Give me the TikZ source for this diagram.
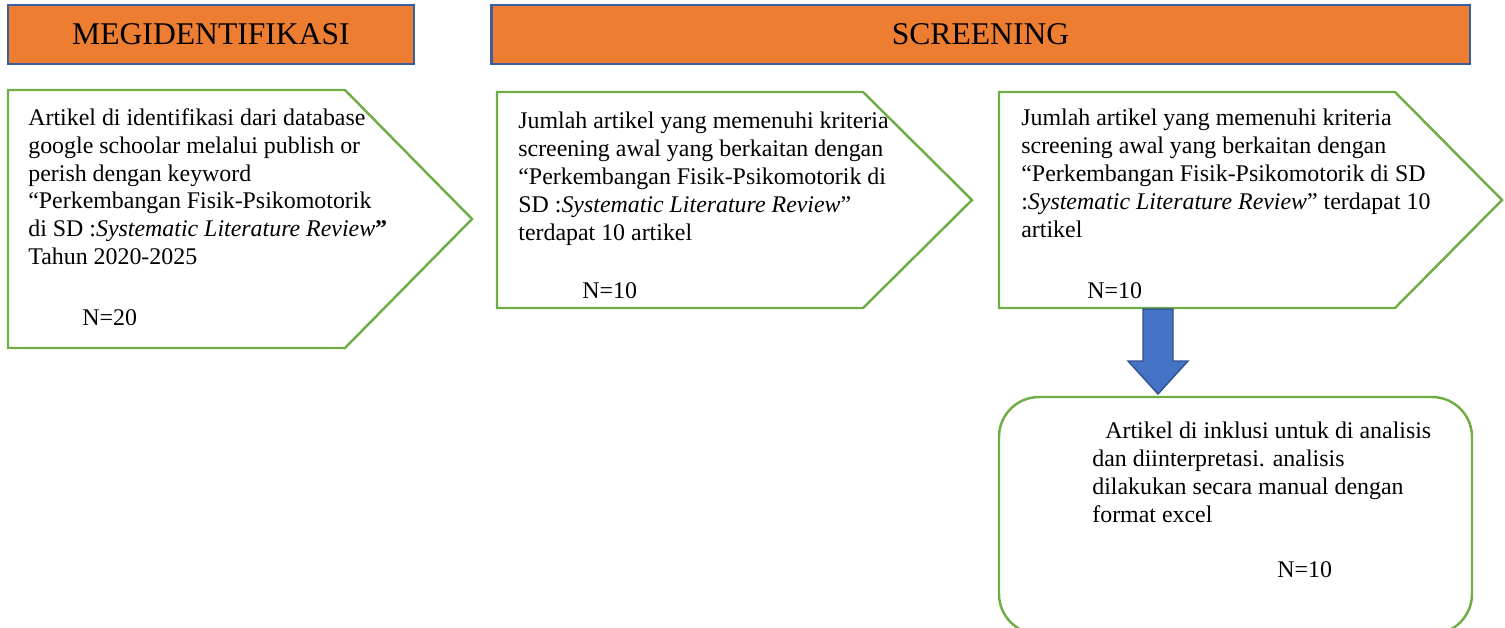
\documentclass[tikz,border=0pt]{standalone}
\usepackage{fontspec}
\setmainfont{Liberation Serif}
\usetikzlibrary{calc,positioning}
\definecolor{headorange}{HTML}{ED7D31}
\definecolor{headblue}{HTML}{3A5EA6}
\definecolor{boxgreen}{HTML}{70AD47}
\definecolor{arrowblue}{HTML}{4472C4}
\definecolor{arrowedge}{HTML}{2F528F}

\begin{document}
\begin{tikzpicture}[x=0.02cm,y=-0.02cm,
                head node/.style={draw=headblue,fill=headorange,line width=1.6pt,inner sep=0,font=\fontsize{18}{20}\selectfont},
                pent/.style={draw=boxgreen,line width=1.4pt,line join=miter},
                text node/.style={anchor=north west,inner sep=0,align=left,font=\fontsize{13.6}{15.9}\selectfont},
                count node/.style={anchor=base west,inner sep=0,font=\fontsize{13.6}{15.9}\selectfont}]
            \useasboundingbox (0,0) rectangle (1505,627);
            \node[head node,minimum width=8.12cm,minimum height=1.18cm] (ident) at (211,34.5) {MEGIDENTIFIKASI};
            \node[head node,minimum width=19.58cm,minimum height=1.18cm] (screen) at (980.5,34.5) {SCREENING};
            \draw[pent] (8,90) -- (345,90) -- (472,219) -- (345,348) -- (8,348) -- cycle;
            \draw[pent] (497,92) -- (863,92) -- (972,200) -- (863,308) -- (497,308) -- cycle;
            \draw[pent] (999,92) -- (1395,92) -- (1502,200) -- (1395,308) -- (999,308) -- cycle;
            \draw[pent,rounded corners=0.8cm] (999,397) rectangle (1472,634);
            \node[text node] (t1) at (28,108) {Artikel di identifikasi dari database\\
                google schoolar melalui publish or\\
                perish dengan keyword\\
                “Perkembangan Fisik-Psikomotorik\\
                di SD :\textit{Systematic Literature Review}\textbf{”}\\
                Tahun 2020-2025};
            \node[count node] (n1) at (82,325) {N=20};
            \node[text node] (t2) at (518,112) {Jumlah artikel yang memenuhi kriteria\\
                screening awal yang berkaitan dengan\\
                “Perkembangan Fisik-Psikomotorik di\\
                SD :\textit{Systematic Literature Review}”\\
                terdapat 10 artikel};
            \node[count node] (n2) at (582,298) {N=10};
            \node[text node] (t3) at (1021,109) {Jumlah artikel yang memenuhi kriteria\\
                screening awal yang berkaitan dengan\\
                “Perkembangan Fisik-Psikomotorik di SD\\
                :\textit{Systematic Literature Review}” terdapat 10\\
                artikel};
            \node[count node] (n3) at (1087,298) {N=10};
            \node[text node] (t4) at (1092,422) {\hspace*{0.26cm}Artikel di inklusi untuk di analisis\\
                dan diinterpretasi. analisis\\
                dilakukan secara manual dengan\\
                format excel};
            \node[count node] (n4) at (1277,577) {N=10};
            \coordinate (p3) at (1158,309);
            \coordinate (inc) at (1158,394);
            \draw[draw=arrowedge,fill=arrowblue,line width=0.8pt]
                ($(p3)+(-15,0)$) -- ($(p3)+(15,0)$) -- ($(inc)+(15,-33)$) -- ($(inc)+(30,-33)$)
                -- (inc) -- ($(inc)+(-30,-33)$) -- ($(inc)+(-15,-33)$) -- cycle;
        \end{tikzpicture}
\end{document}
